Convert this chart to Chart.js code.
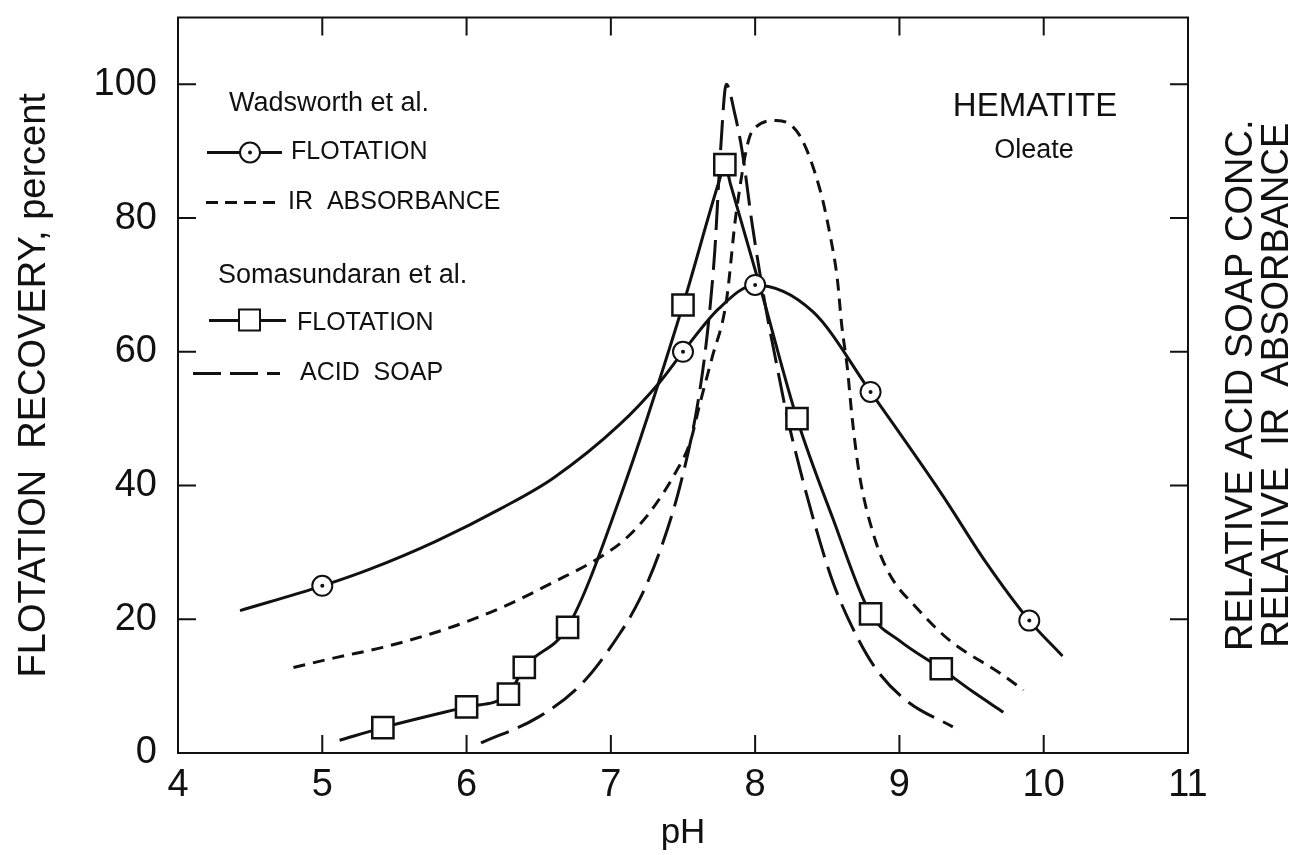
<!DOCTYPE html>
<html lang="en">
<head>
<meta charset="UTF-8" />
<title>Hematite / Oleate flotation vs pH</title>
<script src="https://cdn.jsdelivr.net/npm/chart.js"></script>
<style>
  html, body { margin: 0; background: #fff; }
  #wrap { width: 1303px; height: 855px; position: relative; }
</style>
</head>
<body>
<div id="wrap"><canvas id="chart"></canvas></div>
<script>
// Wadsworth et al. - flotation recovery curve
const wadsPH  = [4.43, 5.0, 5.33, 5.79, 6.25, 6.6, 7.06, 7.34, 7.5, 7.75, 8.0, 8.4, 8.8, 9.3, 9.6, 9.9, 10.13];
const wadsRec = [21.3, 25, 27.5, 31.7, 36.7, 41.1, 49.1, 55.5, 60, 66.5, 70, 66, 54, 38.5, 28.5, 19.8, 14.5];
// measured points (circles)
const wadsPtPH  = [5.0, 7.5, 8.0, 8.8, 9.9];
const wadsPtRec = [25, 60, 70, 54, 19.8];

// Wadsworth et al. - relative IR absorbance
const irPH  = [4.8, 5.1, 5.42, 5.75, 6.02, 6.3, 6.58, 6.92, 7.1, 7.27, 7.45, 7.55, 7.62, 7.7, 7.8, 7.87, 7.98, 8.15,
               8.31, 8.45, 8.52, 8.57, 8.6, 8.64, 8.67, 8.72, 8.82, 8.93, 9.12, 9.35, 9.7, 9.86];
const irVal = [12.8, 14.3, 15.8, 17.8, 19.8, 22.3, 25.3, 29.2, 32, 36, 42, 46.5, 52.5, 59, 67.5, 81, 93, 94.6,
               92.3, 84.2, 77.4, 70.8, 64, 57.4, 50.6, 42, 32.7, 26.8, 21.7, 16.8, 11.9, 9.4];

// Somasundaran et al. - relative acid soap conc.
const soapPH  = [6.1, 6.5, 6.8, 7.06, 7.2, 7.34, 7.48, 7.6, 7.67, 7.72, 7.76, 7.8, 7.86, 7.91, 7.98, 8.07, 8.15,
                 8.22, 8.31, 8.43, 8.54, 8.68, 8.84, 9.05, 9.37];
const soapVal = [1.5, 5.4, 10.4, 17.8, 23, 30.2, 40, 52, 63, 75, 90, 100, 95.5, 90, 79, 67, 58,
                 50.5, 42.5, 33, 25.5, 18.5, 12.5, 7.8, 3.9];

// Somasundaran et al. - flotation recovery curve
const somaPH  = [5.12, 5.42, 6.0, 6.29, 6.4, 6.7, 7.06, 7.5, 7.75, 7.79, 7.83, 8.05, 8.29, 8.54, 8.8, 9.0, 9.29, 9.5, 9.72];
const somaRec = [1.9, 3.8, 6.9, 8.8, 12.8, 18.8, 38, 67, 85.5, 88, 85, 68.5, 50, 35, 20.8, 16.8, 12.6, 9.3, 6.1];
// measured points (squares)
const somaPtPH  = [5.42, 6.0, 6.29, 6.4, 6.7, 7.5, 7.79, 8.29, 8.8, 9.29];
const somaPtRec = [3.8, 6.9, 8.8, 12.8, 18.8, 67, 88, 50, 20.8, 12.6];

const xTicks = [4, 5, 6, 7, 8, 9, 10, 11];
const yTicks = [0, 20, 40, 60, 80, 100];

const FONT = "'Liberation Sans', Arial, Helvetica, sans-serif";
const INK = "#111";

function pts(xs, ys) { return xs.map((x, i) => ({ x: x, y: ys[i] })); }

// box round the plot with inward ticks on all four sides
const frame = {
  id: "frame",
  afterDatasetsDraw(chart) {
    const { ctx, chartArea: a, scales } = chart;
    ctx.save();
    ctx.strokeStyle = INK;
    ctx.lineWidth = 2;
    ctx.strokeRect(a.left, a.top, a.right - a.left, a.bottom - a.top);
    ctx.beginPath();
    xTicks.forEach(v => {
      const px = scales.x.getPixelForValue(v);
      ctx.moveTo(px, a.bottom); ctx.lineTo(px, a.bottom - 18);
      ctx.moveTo(px, a.top); ctx.lineTo(px, a.top + 18);
    });
    yTicks.forEach(v => {
      const py = scales.y.getPixelForValue(v);
      ctx.moveTo(a.left, py); ctx.lineTo(a.left + 18, py);
      ctx.moveTo(a.right, py); ctx.lineTo(a.right - 18, py);
    });
    ctx.stroke();
    ctx.restore();
  }
};

// key, labels and right-hand axis title
const notes = {
  id: "notes",
  afterDraw(chart) {
    const { ctx, chartArea: a } = chart;
    const L = a.left, T = a.top;
    ctx.save();
    ctx.fillStyle = INK;
    ctx.strokeStyle = INK;
    ctx.textBaseline = "middle";

    function text(s, x, y, size, align) {
      ctx.font = size + "px " + FONT;
      ctx.textAlign = align || "left";
      ctx.fillText(s, x, y);
    }
    function line(x1, x2, y, dash, w) {
      ctx.beginPath();
      ctx.setLineDash(dash || []);
      ctx.lineWidth = w || 3;
      ctx.moveTo(x1, y); ctx.lineTo(x2, y);
      ctx.stroke();
      ctx.setLineDash([]);
    }

    text("Wadsworth et al.", L + 51, T + 86, 27);
    line(L + 29, L + 104, T + 135);
    ctx.beginPath(); ctx.arc(L + 72, T + 135, 10, 0, Math.PI * 2);
    ctx.fillStyle = "#fff"; ctx.fill(); ctx.lineWidth = 2; ctx.stroke();
    ctx.fillStyle = INK;
    ctx.beginPath(); ctx.arc(L + 72, T + 135, 2, 0, Math.PI * 2); ctx.fill();
    text("FLOTATION", L + 113, T + 135, 25);

    line(L + 28, L + 100, T + 185, [12, 7]);
    text("IR  ABSORBANCE", L + 110, T + 185, 25);

    text("Somasundaran et al.", L + 40, T + 258, 27);
    line(L + 31, L + 108, T + 303);
    ctx.fillStyle = "#fff";
    ctx.fillRect(L + 61, T + 292, 21, 21);
    ctx.lineWidth = 2;
    ctx.strokeRect(L + 61, T + 292, 21, 21);
    ctx.fillStyle = INK;
    text("FLOTATION", L + 119, T + 306, 25);

    line(L + 15, L + 102, T + 356, [28, 9]);
    text("ACID  SOAP", L + 122, T + 356, 25);

    text("HEMATITE", a.right - 153, T + 89, 33, "center");
    text("Oleate", a.right - 154, T + 133, 27, "center");

    // right axis title, read bottom to top
    const mid = (a.top + a.bottom) / 2;
    ctx.font = "38px " + FONT;
    ctx.textAlign = "center";
    ctx.translate(a.right + 54, mid);
    ctx.rotate(-Math.PI / 2);
    ctx.fillText("RELATIVE ACID SOAP CONC.", 0, 0);
    ctx.fillText("RELATIVE  IR  ABSORBANCE", 0, 36);
    ctx.restore();
  }
};

const lineBase = {
  showLine: true,
  pointRadius: 0,
  borderColor: INK,
  borderWidth: 3,
  fill: false,
  cubicInterpolationMode: "monotone",
  order: 2
};

new Chart(document.getElementById("chart"), {
  type: "line",
  data: {
    datasets: [
      Object.assign({}, lineBase, { label: "Wadsworth flotation", data: pts(wadsPH, wadsRec) }),
      Object.assign({}, lineBase, { label: "IR absorbance", data: pts(irPH, irVal), borderDash: [12, 8] }),
      Object.assign({}, lineBase, { label: "Acid soap", data: pts(soapPH, soapVal), borderDash: [30, 10] }),
      Object.assign({}, lineBase, { label: "Somasundaran flotation", data: pts(somaPH, somaRec) }),
      {
        label: "Wadsworth points", data: pts(wadsPtPH, wadsPtRec), showLine: false,
        pointStyle: "circle", pointRadius: 10, pointBackgroundColor: "#fff",
        pointBorderColor: INK, pointBorderWidth: 2, order: 1
      },
      {
        label: "Wadsworth dots", data: pts(wadsPtPH, wadsPtRec), showLine: false,
        pointStyle: "circle", pointRadius: 2, pointBackgroundColor: INK,
        pointBorderColor: INK, pointBorderWidth: 0, order: 0
      },
      {
        label: "Somasundaran points", data: pts(somaPtPH, somaPtRec), showLine: false,
        pointStyle: "rect", pointRadius: 15, pointBackgroundColor: "#fff",
        pointBorderColor: INK, pointBorderWidth: 2.5, order: 1
      }
    ]
  },
  options: {
    responsive: true,
    maintainAspectRatio: false,
    animation: false,
    layout: { padding: { top: 14, right: 115, left: 0, bottom: 0 } },
    plugins: { legend: { display: false }, tooltip: { enabled: false } },
    scales: {
      x: {
        type: "linear",
        min: 4, max: 11,
        grid: { display: false },
        border: { display: false },
        afterBuildTicks: s => { s.ticks = xTicks.map(v => ({ value: v })); },
        afterFit: s => { s.height = 102; s.paddingLeft = 0; s.paddingRight = 0; },
        ticks: { color: INK, padding: 2, maxRotation: 0, font: { family: FONT, size: 38 } },
        title: { display: true, text: "pH", color: INK, padding: { top: 0, bottom: 1 }, font: { family: FONT, size: 35 } }
      },
      y: {
        min: 0, max: 110,
        grid: { display: false },
        border: { display: false },
        afterBuildTicks: s => { s.ticks = yTicks.map(v => ({ value: v })); },
        afterFit: s => { s.width = 178; s.paddingTop = 0; s.paddingBottom = 0; },
        ticks: { color: INK, padding: 13, font: { family: FONT, size: 38 } },
        title: {
          display: true, text: "FLOTATION  RECOVERY, percent", color: INK,
          padding: { top: 12, bottom: 0 }, font: { family: FONT, size: 38 }
        }
      }
    }
  },
  plugins: [frame, notes]
});
</script>
</body>
</html>
